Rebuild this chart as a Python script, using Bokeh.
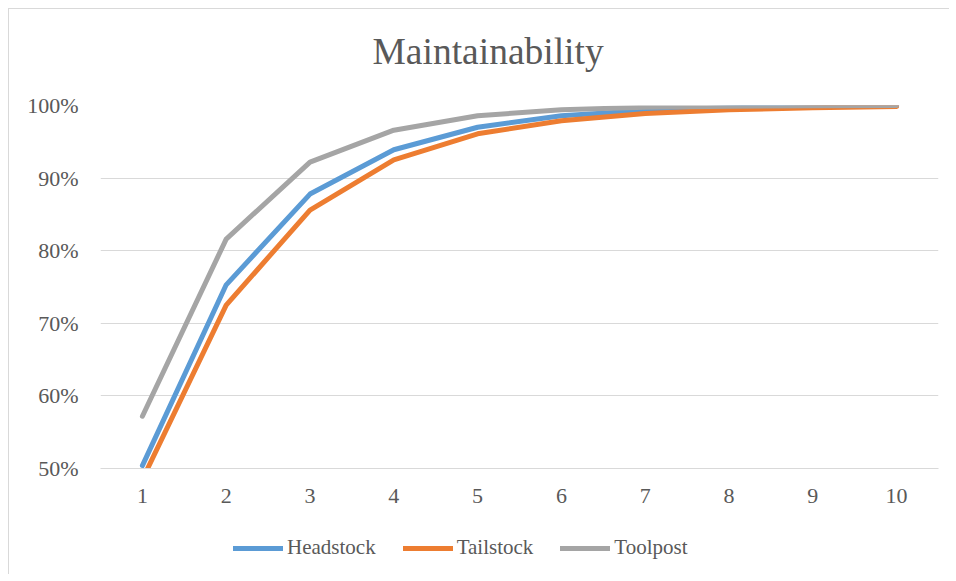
from bokeh.plotting import figure
from bokeh.layouts import column
from bokeh.models import (FactorRange, Range1d, FixedTicker, NumeralTickFormatter,
                          Legend, LegendItem, Title)
from bokeh.embed import file_html
from bokeh.resources import INLINE

categories = ["1", "2", "3", "4", "5", "6", "7", "8", "9", "10"]
headstock = [0.504, 0.753, 0.878, 0.939, 0.970, 0.986, 0.993, 0.997, 0.9985, 0.9995]
tailstock = [0.485, 0.725, 0.856, 0.925, 0.961, 0.979, 0.989, 0.994, 0.997, 0.9985]
toolpost = [0.572, 0.816, 0.922, 0.966, 0.986, 0.994, 0.9975, 0.999, 0.9995, 0.9999]
y_ticks = [0.5, 0.6, 0.7, 0.8, 0.9, 1.0]
series_names = ["Headstock", "Tailstock", "Toolpost"]
colors = ["#5B9BD5", "#ED7D31", "#A5A5A5"]
chart_title = "Maintainability"

FONT = "'Liberation Serif', serif"
TXT = "#595959"

p = figure(width=940, height=500, x_range=FactorRange(*categories),
           y_range=Range1d(0.5, 1.0), output_backend="svg", toolbar_location=None,
           min_border_left=91, min_border_right=11, min_border_top=96,
           min_border_bottom=41)

# spacer between frame and title (nearest to the frame), then the title
p.add_layout(Title(text=" ", text_font_size="1px", standoff=30), "above")
p.add_layout(Title(text=chart_title, text_font=FONT, text_font_size="37.5px",
                   text_font_style="normal", text_color=TXT, align="left",
                   offset=272, standoff=2), "above")

p.outline_line_color = None
p.xgrid.grid_line_color = None
p.ygrid.grid_line_color = "#d9d9d9"
p.ygrid.grid_line_width = 1
p.yaxis.ticker = FixedTicker(ticks=y_ticks)
p.yaxis.formatter = NumeralTickFormatter(format="0%")

for ax in (p.xaxis[0], p.yaxis[0]):
    ax.major_tick_line_color = None
    ax.minor_tick_line_color = None
    ax.major_tick_out = 0
    ax.major_tick_in = 0
    ax.minor_tick_out = 0
    ax.major_label_text_font = FONT
    ax.major_label_text_font_size = "22px"
    ax.major_label_text_color = TXT
p.yaxis.axis_line_color = None
p.yaxis.major_label_standoff = 22
p.xaxis.axis_line_color = "#d9d9d9"
p.xaxis.major_label_standoff = 20

for name, vals, c in zip(series_names, [headstock, tailstock, toolpost], colors):
    p.line(categories, vals, line_color=c, line_width=5,
           line_cap="round", line_join="round")

# legend strip below the chart
lg = figure(width=940, height=65, x_range=Range1d(0, 1), y_range=Range1d(0, 1),
            output_backend="svg", toolbar_location=None,
            x_axis_location=None, y_axis_location=None,
            min_border_left=0, min_border_right=0, min_border_top=0, min_border_bottom=0)
lg.outline_line_color = None
lg.grid.grid_line_color = None
items = []
nan = float("nan")
for name, c in zip(series_names, colors):
    r = lg.line([nan], [nan], line_color=c, line_width=5, line_cap="round")
    items.append(LegendItem(label=name, renderers=[r]))
legend = Legend(items=items, orientation="horizontal", location=(133, 14),
                glyph_width=50, glyph_height=20, label_standoff=4, spacing=27,
                padding=0, margin=0, border_line_color=None, background_fill_alpha=0,
                label_text_font=FONT, label_text_font_size="21px", label_text_color=TXT)
lg.add_layout(legend)

layout = column(p, lg, spacing=0,
                styles={"margin-left": "8px", "margin-top": "8px",
                        "border-left": "1px solid #d9d9d9", "border-top": "1px solid #d9d9d9"})

open("out.html", "w").write(file_html(layout, INLINE))
